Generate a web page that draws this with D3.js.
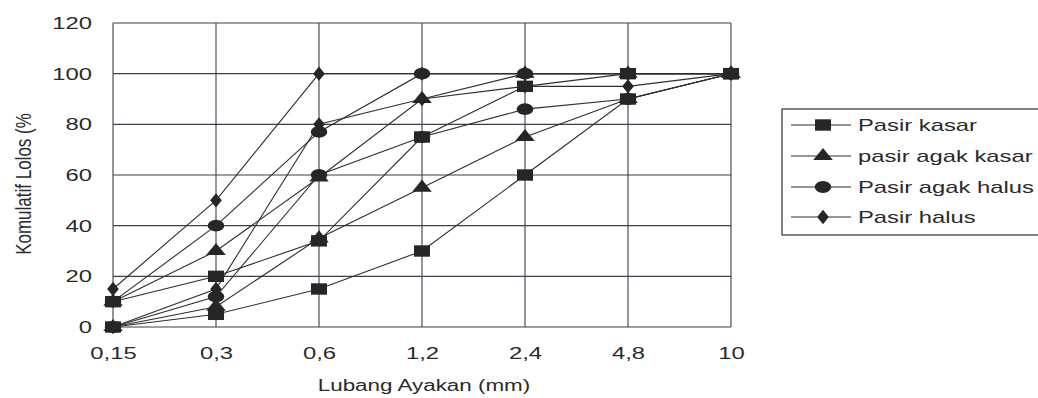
<!DOCTYPE html>
<html><head><meta charset="utf-8">
<script src="https://cdn.jsdelivr.net/npm/d3@7"></script>
<style>body{margin:0;background:#fff}svg{display:block}text{font-family:"Liberation Sans",Arial,sans-serif;fill:#2a2a2a}</style>
</head><body><svg id="c" width="1038" height="398"></svg>
<script>
const categories = ["0,15","0,3","0,6","1,2","2,4","4,8","10"];
const yTicks = [0,20,40,60,80,100,120];
const seriesNames = ["Pasir kasar","pasir agak kasar","Pasir agak halus","Pasir halus"];
const kasarLow   = [0,5,15,30,60,90,100];
const kasarHigh  = [10,20,34,75,95,100,100];
const agakKasarLow  = [0,8,35,55,75,90,100];
const agakKasarHigh = [10,30,59,90,100,100,100];
const agakHalusLow  = [0,12,60,75,86,90,100];
const agakHalusHigh = [10,40,77,100,100,100,100];
const halusLow  = [0,15,80,90,95,95,100];
const halusHigh = [15,50,100,100,100,100,100];

const series = [
  {name: seriesNames[0], shape: "square",   lines: [kasarLow, kasarHigh]},
  {name: seriesNames[1], shape: "triangle", lines: [agakKasarLow, agakKasarHigh]},
  {name: seriesNames[2], shape: "circle",   lines: [agakHalusLow, agakHalusHigh]},
  {name: seriesNames[3], shape: "diamond",  lines: [halusLow, halusHigh]}
];

const svg = d3.select("#c");
const L = 113, R = 731, T = 23, B = 327;
const x = d3.scalePoint().domain(categories).range([L, R]).padding(0);
const y = d3.scaleLinear().domain([0,120]).range([B, T]);
const ink = "#2e2e2e", grid = "#3a3f4a";
const SX = 1.4; // horizontal stretch of the scanned figure

function stretch(sel) {
  sel.each(function(){
    const w = this.getComputedTextLength();
    d3.select(this).attr("textLength", w*SX).attr("lengthAdjust","spacingAndGlyphs");
  });
}

// grid
svg.append("g").selectAll("line").data(yTicks).join("line")
  .attr("x1", L).attr("x2", R).attr("y1", d=>y(d)).attr("y2", d=>y(d))
  .attr("stroke", grid).attr("stroke-width", 1.1);
svg.append("g").selectAll("line").data(categories).join("line")
  .attr("x1", d=>x(d)).attr("x2", d=>x(d)).attr("y1", T).attr("y2", B)
  .attr("stroke", grid).attr("stroke-width", 1.1);

// axes
const yAxis = svg.append("g").attr("transform", `translate(${L},0)`)
  .call(d3.axisLeft(y).tickValues(yTicks).tickSize(0).tickPadding(21));
yAxis.select(".domain").remove();
yAxis.selectAll("text").style("font-size","17px").attr("fill","#2a2a2a").attr("font-family","Liberation Sans").call(stretch);
const xAxis = svg.append("g").attr("transform", `translate(0,${B})`)
  .call(d3.axisBottom(x).tickSize(0).tickPadding(20));
xAxis.select(".domain").remove();
xAxis.selectAll("text").style("font-size","17px").attr("fill","#2a2a2a").attr("font-family","Liberation Sans").call(stretch);

svg.append("text").attr("x", 424).attr("y", 391).attr("text-anchor","middle")
  .style("font-size","16px").text("Lubang Ayakan (mm)").call(stretch);
svg.append("text").attr("transform","translate(31,184) rotate(-90) scale(1,1.3)").attr("text-anchor","middle")
  .style("font-size","17px").text("Komulatif Lolos (%");

const sym = {
  square: d3.symbol(d3.symbolSquare, 130),
  triangle: d3.symbol(d3.symbolTriangle, 85),
  circle: d3.symbol(d3.symbolCircle, 110),
  diamond: d3.symbol(d3.symbolDiamond, 60)
};

const line = d3.line().x((d,i)=>x(categories[i])).y(d=>y(d));
const lg = svg.append("g");
series.forEach(s => s.lines.forEach(vals => {
  lg.append("path").datum(vals).attr("d", line).attr("fill","none")
    .attr("stroke", ink).attr("stroke-width", 1.1);
}));
const mg = svg.append("g");
series.slice().reverse().forEach(s => s.lines.forEach(vals => {
  mg.selectAll(null).data(vals).join("path")
    .attr("transform", (d,i)=>`translate(${x(categories[i])},${y(d)}) scale(${SX},1)`)
    .attr("d", sym[s.shape]).attr("fill", "#262626");
}));

// legend
const leg = svg.append("g");
leg.append("rect").attr("x", 782).attr("y", 109).attr("width", 262).attr("height", 126)
  .attr("fill","#fff").attr("stroke","#333").attr("stroke-width",1.2);
const ly = [125,156,187,217];
series.forEach((s,i) => {
  leg.append("line").attr("x1", 791).attr("x2", 851).attr("y1", ly[i]).attr("y2", ly[i])
    .attr("stroke", ink).attr("stroke-width", 1.1);
  leg.append("path").attr("transform", `translate(823,${ly[i]}) scale(${SX},1)`).attr("d", sym[s.shape]).attr("fill","#262626");
  leg.append("text").attr("x", 858).attr("y", ly[i]).attr("dy","0.35em")
    .style("font-size","17px").text(s.name).call(stretch);
});
</script></body></html>
